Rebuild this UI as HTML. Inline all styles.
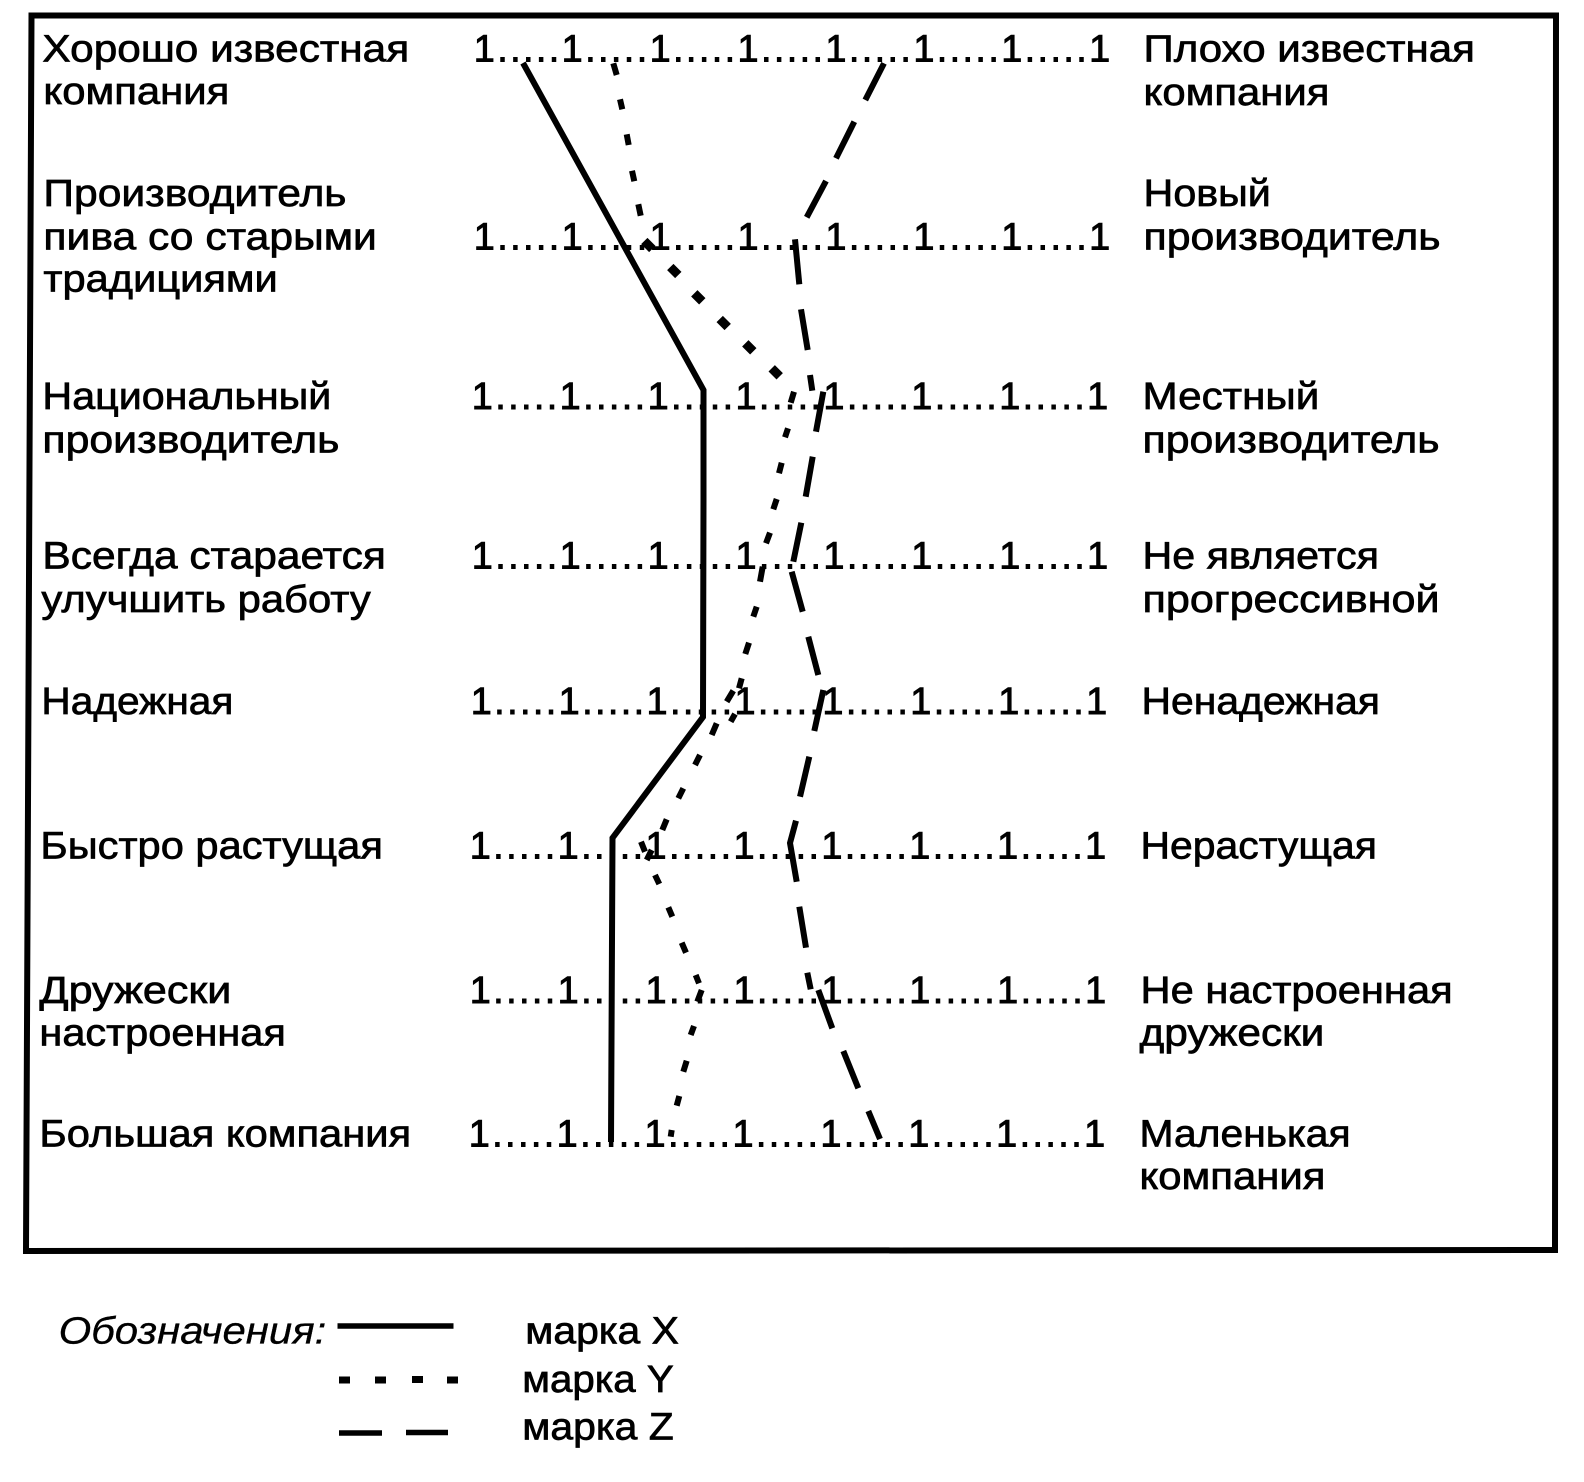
<!DOCTYPE html>
<html lang="ru">
<head>
<meta charset="utf-8">
<title>Семантический дифференциал</title>
<style>
html,body{margin:0;padding:0;background:#fff;}
svg{display:block;}
text{font-family:"Liberation Sans",sans-serif;font-size:37.5px;fill:#000;stroke:#000;stroke-width:.7px;}
.s{font-size:37.5px;stroke-width:.9px;}
</style>
</head>
<body>
<svg width="1584" height="1482" viewBox="0 0 1568 1467" preserveAspectRatio="none" xmlns="http://www.w3.org/2000/svg">

<g transform="translate(0 .8)">
<text x="42" y="60.2" textLength="363" lengthAdjust="spacingAndGlyphs">Хорошо известная</text>
<text x="43" y="102.2" textLength="184" lengthAdjust="spacingAndGlyphs">компания</text>
<text x="43" y="203" textLength="300" lengthAdjust="spacingAndGlyphs">Производитель</text>
<text x="43" y="246" textLength="330" lengthAdjust="spacingAndGlyphs">пива со старыми</text>
<text x="43" y="288" textLength="232" lengthAdjust="spacingAndGlyphs">традициями</text>
<text x="42" y="404" textLength="286" lengthAdjust="spacingAndGlyphs">Национальный</text>
<text x="42" y="447" textLength="294" lengthAdjust="spacingAndGlyphs">производитель</text>
<text x="42" y="562" textLength="340" lengthAdjust="spacingAndGlyphs">Всегда старается</text>
<text x="41" y="605" textLength="326" lengthAdjust="spacingAndGlyphs">улучшить работу</text>
<text x="41" y="706" textLength="190" lengthAdjust="spacingAndGlyphs">Надежная</text>
<text x="40" y="849" textLength="339" lengthAdjust="spacingAndGlyphs">Быстро растущая</text>
<text x="39" y="992" textLength="190" lengthAdjust="spacingAndGlyphs">Дружески</text>
<text x="39" y="1034" textLength="244" lengthAdjust="spacingAndGlyphs">настроенная</text>
<text x="39" y="1134" textLength="368" lengthAdjust="spacingAndGlyphs">Большая компания</text>

<text x="1132" y="60.2" textLength="328" lengthAdjust="spacingAndGlyphs">Плохо известная</text>
<text x="1132" y="103.2" textLength="184" lengthAdjust="spacingAndGlyphs">компания</text>
<text x="1132" y="203" textLength="126" lengthAdjust="spacingAndGlyphs">Новый</text>
<text x="1132" y="246" textLength="294" lengthAdjust="spacingAndGlyphs">производитель</text>
<text x="1131" y="404" textLength="175" lengthAdjust="spacingAndGlyphs">Местный</text>
<text x="1131" y="447" textLength="294" lengthAdjust="spacingAndGlyphs">производитель</text>
<text x="1131" y="562" textLength="234" lengthAdjust="spacingAndGlyphs">Не является</text>
<text x="1131" y="605" textLength="294" lengthAdjust="spacingAndGlyphs">прогрессивной</text>
<text x="1130" y="706" textLength="236" lengthAdjust="spacingAndGlyphs">Ненадежная</text>
<text x="1129" y="849" textLength="234" lengthAdjust="spacingAndGlyphs">Нерастущая</text>
<text x="1129" y="992" textLength="309" lengthAdjust="spacingAndGlyphs">Не настроенная</text>
<text x="1128" y="1034" textLength="183" lengthAdjust="spacingAndGlyphs">дружески</text>
<text x="1128" y="1134" textLength="209" lengthAdjust="spacingAndGlyphs">Маленькая</text>
<text x="1128" y="1176" textLength="184" lengthAdjust="spacingAndGlyphs">компания</text>

<text class="s" x="469" y="60.2" textLength="630" lengthAdjust="spacing">1.....1.....1.....1.....1.....1.....1.....1</text>
<text class="s" x="469" y="246" textLength="630" lengthAdjust="spacing">1.....1.....1.....1.....1.....1.....1.....1</text>
<text class="s" x="467" y="404" textLength="630" lengthAdjust="spacing">1.....1.....1.....1.....1.....1.....1.....1</text>
<text class="s" x="467" y="562" textLength="630" lengthAdjust="spacing">1.....1.....1.....1.....1.....1.....1.....1</text>
<text class="s" x="466" y="706" textLength="630" lengthAdjust="spacing">1.....1.....1.....1.....1.....1.....1.....1</text>
<text class="s" x="465" y="849" textLength="630" lengthAdjust="spacing">1.....1.....1.....1.....1.....1.....1.....1</text>
<text class="s" x="465" y="992" textLength="630" lengthAdjust="spacing">1.....1.....1.....1.....1.....1.....1.....1</text>
<text class="s" x="464" y="1134" textLength="630" lengthAdjust="spacing">1.....1.....1.....1.....1.....1.....1.....1</text>
</g>

<text x="58" y="1330" textLength="265" lengthAdjust="spacingAndGlyphs" font-style="italic" style="stroke-width:.3px">Обозначения:</text>
<text x="520" y="1330" textLength="152" lengthAdjust="spacingAndGlyphs">марка X</text>
<text x="517" y="1378" textLength="150" lengthAdjust="spacingAndGlyphs">марка Y</text>
<text x="517" y="1425" textLength="150" lengthAdjust="spacingAndGlyphs">марка Z</text>

<g transform="scale(0.98990 0.98988)" fill="none" stroke="#000">
<!-- frame -->
<polygon points="31.5,15.5 1556,15.5 1555,1250 26,1251" stroke-width="6"/>

<!-- brand X -->
<polyline points="523,63 703.5,390 703.5,500 703,717 612.5,838 611,1142" stroke-width="6"/>

<!-- brand Y -->
<path stroke-width="6" d="M613.3 63.3L616.7 75M620 99.3L622.3 109.3M626.7 134.3L628.7 145M632 170.7L634.3 181.3M638.3 204.3L640.7 215.7"/>
<path stroke-width="9" d="M644.3 241L652.3 249M670.3 267L678.3 275M694.3 293.3L702.3 301.3M719.7 319L727.7 327M745.3 343.3L753.3 351.3M771.7 368.3L779.7 376.3"/>
<path stroke-width="6" d="M794 391.7L790.7 402.7M788 428.3L785 437.3M781.7 462.7L779 473.3M776.7 499L773.3 509.3M770 532.7L766 543.3M762.7 566.7L760 581.7M756.7 606.7L753.3 616.7M749 642.7L745.3 654M741.7 678.3L739 688.3M733.3 690.7L726.7 701.7M735 714L730.7 721.7M716.7 723.3L711.7 735M700 755L695 765M683.3 788.3L678.3 798.3M666.7 819.3L662.3 830M641 841.7L645 851.7M651.7 850L646.7 860M655 875L659.3 884M668.3 907.3L672.3 916.7M681.7 942.7L686 952.7M695.7 975L699 983.3M701.7 990L697.3 1001.7M694 1026L690.7 1035M686.7 1060.7L683.3 1071.7M679.3 1096L676.7 1105.7M671.7 1130L670.7 1136.7"/>

<!-- brand Z -->
<path stroke-width="6" d="M884 63.3L865.3 100M854.3 121.7L836 158.3M826 181L806.7 217.3M795 239.3L799.3 284.3M801 309.3L807.7 350M810 375L812.3 390.7M823.3 391.7L816 431.7M812.7 456.7L805.7 496.7M801.3 522.7L793.3 561.7M791.7 571.7L802.7 611.7M808.3 636.7L818.3 675M823.3 690L814.3 731M809.3 756.7L800 796.7M796 820.7L790 843L796.7 881.7M799.3 906.7L806 947.7M807.3 972.7L810.7 989.3M818.3 990L832.3 1028.3M843.3 1051L858.3 1088.3M868.3 1111L880 1139"/>

<!-- legend -->
<line x1="337.5" y1="1326" x2="453.5" y2="1326" stroke-width="5.5"/>
<path stroke-width="7" d="M339 1380H350M375 1380H386M412 1379.5H423M447 1380H458"/>
<path stroke-width="5.5" d="M339 1433H382M406 1432.5H448"/>
</g>
</svg>
</body>
</html>
